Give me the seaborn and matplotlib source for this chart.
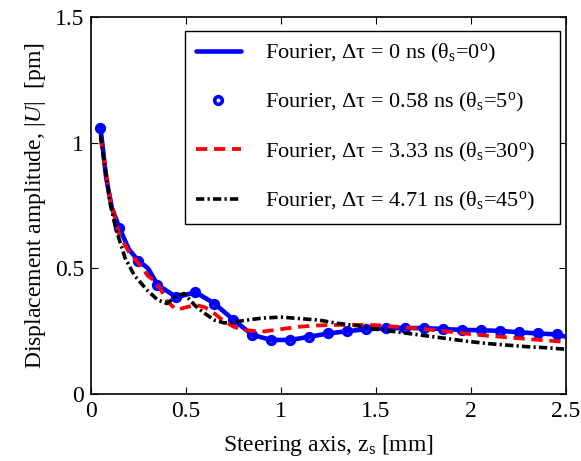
import numpy as np
import pandas as pd
import matplotlib
matplotlib.use("Agg")
import matplotlib.pyplot as plt
import seaborn as sns

# ---- data ----
x_solid = [0.05, 0.08, 0.11, 0.15, 0.2, 0.25, 0.3, 0.35, 0.45, 0.55, 0.65, 0.75, 0.85, 0.95,
           1.05, 1.15, 1.25, 1.35, 1.45, 1.55, 1.65, 1.75, 1.85, 1.95, 2.05, 2.15,
           2.25, 2.35, 2.45, 2.5]
y_solid = [1.06, 0.86, 0.74, 0.66, 0.575, 0.53, 0.5, 0.435, 0.385, 0.405, 0.36, 0.295, 0.235, 0.215,
           0.215, 0.228, 0.241, 0.25, 0.258, 0.261, 0.263, 0.262, 0.259, 0.255, 0.254, 0.251,
           0.246, 0.241, 0.237, 0.228]

x_mark = [0.05, 0.15, 0.25, 0.35, 0.45, 0.55, 0.65, 0.75, 0.85, 0.95, 1.05, 1.15, 1.25,
          1.35, 1.45, 1.55, 1.65, 1.75, 1.85, 1.95, 2.05, 2.15, 2.25, 2.35, 2.45]
y_mark = [1.06, 0.66, 0.53, 0.435, 0.385, 0.405, 0.36, 0.295, 0.235, 0.215, 0.215, 0.228, 0.241,
          0.25, 0.258, 0.261, 0.263, 0.262, 0.259, 0.255, 0.254, 0.251, 0.246, 0.241, 0.237]

x_red = [0.05, 0.1, 0.15, 0.2, 0.25, 0.3, 0.35, 0.4, 0.45, 0.5, 0.55, 0.6, 0.65, 0.7, 0.75,
         0.8, 0.9, 1.0, 1.1, 1.2, 1.3, 1.4, 1.5, 1.6, 1.7, 1.8, 1.9, 2.0, 2.1, 2.2, 2.3, 2.4, 2.5]
y_red = [1.02, 0.78, 0.63, 0.565, 0.52, 0.47, 0.44, 0.37, 0.335, 0.345, 0.355, 0.345, 0.32,
         0.29, 0.268, 0.255, 0.248, 0.258, 0.268, 0.273, 0.275, 0.275, 0.274, 0.268, 0.262,
         0.255, 0.247, 0.238, 0.231, 0.225, 0.219, 0.213, 0.207]

x_blk = [0.05, 0.1, 0.13, 0.18, 0.23, 0.3, 0.35, 0.4, 0.45, 0.49, 0.55, 0.6, 0.65, 0.7, 0.75,
         0.8, 0.9, 1.0, 1.1, 1.2, 1.3, 1.4, 1.5, 1.6, 1.7, 1.8, 1.9, 2.0, 2.1, 2.2, 2.3, 2.4, 2.5]
y_blk = [1.03, 0.76, 0.66, 0.54, 0.47, 0.41, 0.375, 0.36, 0.39, 0.40, 0.35, 0.32, 0.294, 0.283,
         0.285, 0.292, 0.302, 0.306, 0.30, 0.294, 0.281, 0.272, 0.258, 0.248, 0.238, 0.228,
         0.218, 0.208, 0.2, 0.194, 0.188, 0.184, 0.178]

labels = [r"Fourier, Δτ = 0 ns (θ$_{\rm s}$=0$^{\rm o}$)",
          r"Fourier, Δτ = 0.58 ns (θ$_{\rm s}$=5$^{\rm o}$)",
          r"Fourier, Δτ = 3.33 ns (θ$_{\rm s}$=30$^{\rm o}$)",
          r"Fourier, Δτ = 4.71 ns (θ$_{\rm s}$=45$^{\rm o}$)"]

x_ticks = [0, 0.5, 1, 1.5, 2, 2.5]
x_ticklabels = ["0", "0.5", "1", "1.5", "2", "2.5"]
y_ticks = [0, 0.5, 1, 1.5]
y_ticklabels = ["0", "0.5", "1", "1.5"]

# ---- style ----
sns.set_style("ticks")
plt.rcParams["font.family"] = ["Liberation Serif", "DejaVu Serif"]
plt.rcParams["mathtext.fontset"] = "custom"
plt.rcParams["mathtext.rm"] = "Liberation Serif"
plt.rcParams["mathtext.it"] = "Liberation Serif:italic"
plt.rcParams["text.color"] = "black"
plt.rcParams["axes.labelcolor"] = "black"

fig = plt.figure(figsize=(5.81, 4.61), dpi=100)
ax = fig.add_axes([0.1566, 0.1453, 0.8176, 0.8178])

df_solid = pd.DataFrame({"x": x_solid, "y": y_solid})
df_mark = pd.DataFrame({"x": x_mark, "y": y_mark})
df_red = pd.DataFrame({"x": x_red, "y": y_red})
df_blk = pd.DataFrame({"x": x_blk, "y": y_blk})

sns.lineplot(data=df_mark, x="x", y="y", ax=ax, estimator=None, sort=False,
             color="#0000ff", linestyle="none", marker="o", markersize=5.5,
             markerfacecolor="white", markeredgecolor="#0000ff", markeredgewidth=2.6,
             label=labels[1], zorder=3)
sns.lineplot(data=df_solid, x="x", y="y", ax=ax, estimator=None, sort=False,
             color="#0000ff", linewidth=3.3, label=labels[0], zorder=4)
sns.lineplot(data=df_red, x="x", y="y", ax=ax, estimator=None, sort=False,
             color="#ff0000", linewidth=2.7, linestyle=(0, (3, 1.8)), label=labels[2], zorder=5)
sns.lineplot(data=df_blk, x="x", y="y", ax=ax, estimator=None, sort=False,
             color="black", linewidth=2.6, linestyle=(0, (2.3, 0.9, 0.6, 0.9)), label=labels[3], zorder=6)

ax.set_xlim(0, 2.5)
ax.set_ylim(0, 1.5)
ax.set_xticks(x_ticks)
ax.set_xticklabels(x_ticklabels)
ax.set_yticks(y_ticks)
ax.set_yticklabels(y_ticklabels)
ax.tick_params(direction="in", top=True, right=True, length=5, width=0.8,
               labelsize=17, colors="black", pad=5)
for s in ax.spines.values():
    s.set_linewidth(1.2)
    s.set_color("black")

ax.set_xlabel(r"Steering axis, z$_{\rm s}$ [mm]", fontsize=17, labelpad=8)
ax.set_ylabel(r"Displacement amplitude, |$U$|  [pm]", fontsize=17, labelpad=5)

h, l = ax.get_legend_handles_labels()
order = [l.index(lab) for lab in labels]
leg = ax.legend([h[i] for i in order], [l[i] for i in order],
                loc="upper left", bbox_to_anchor=(0.198, 0.47, 0.789, 0.493),
                mode="expand", borderaxespad=0,
                fontsize=16, frameon=True, fancybox=False, framealpha=1,
                edgecolor="black", handlelength=2.0, labelspacing=1.18,
                borderpad=0.5, handletextpad=1.1, markerscale=1.0)
leg.get_frame().set_linewidth(1.0)

fig.savefig("out.png", dpi=100)
